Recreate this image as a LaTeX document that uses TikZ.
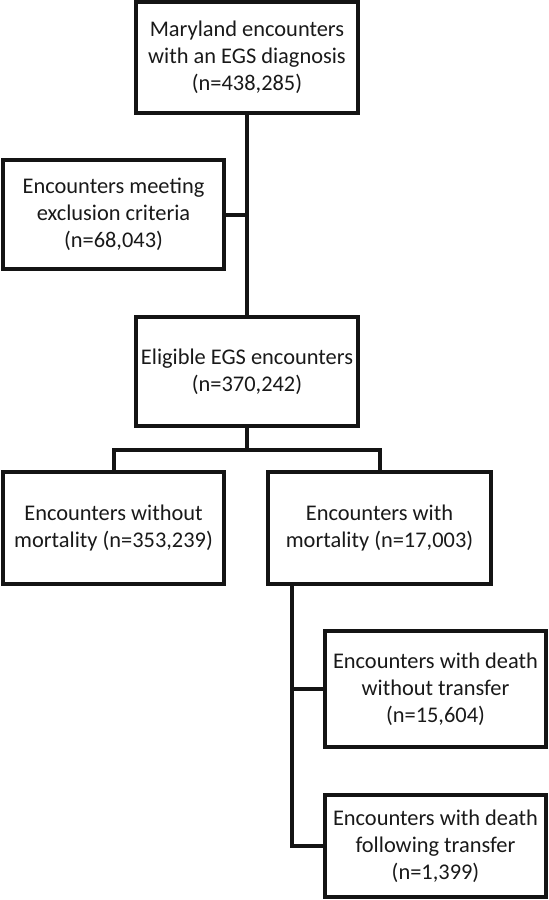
\documentclass[tikz,border=0pt]{standalone}
\usepackage{fontspec}
\setmainfont{Carlito}
\begin{document}
\begin{tikzpicture}[x=0.75pt,y=-0.75pt,
  box/.style={draw=black!92, line width=3pt, rectangle, align=center, inner sep=0pt,
    font=\fontsize{16.8}{20.4}\selectfont, text=black!90},
  link/.style={draw=black!92, line width=3pt}]
\useasboundingbox (0,0) rectangle (549,900);
\node[box, minimum width=166.5pt, minimum height=83.25pt] (b1) at (247,57.5)
  {Maryland encounters\\with an EGS diagnosis\\(n=438,285)};
\node[box, minimum width=165.75pt, minimum height=81.75pt] (b2) at (113.5,214.5)
  {Encounters meeting\\exclusion criteria\\(n=68,043)};
\node[box, minimum width=166.5pt, minimum height=81.75pt] (b3) at (247,371.5)
  {Eligible EGS encounters\\(n=370,242)};
\node[box, minimum width=165.75pt, minimum height=84pt] (b4) at (113.5,528)
  {Encounters without\\mortality (n=353,239)};
\node[box, minimum width=167.25pt, minimum height=84pt] (b5) at (379.5,528)
  {Encounters with\\mortality (n=17,003)};
\node[box, minimum width=165.75pt, minimum height=87pt] (b6) at (435.5,689)
  {Encounters with death\\without transfer\\(n=15,604)};
\node[box, minimum width=165.75pt, minimum height=76.5pt] (b7) at (435.5,846)
  {Encounters with death\\following transfer\\(n=1,399)};
\coordinate (j1) at (247,214.5);
\coordinate (bar) at (247,450);
\coordinate (t5) at (292,584);
\coordinate (j6) at (292,689);
\coordinate (j7) at (292,846);
\draw[link] (b1.south) -- (b3.north);
\draw[link] (b2.east) -- (j1);
\draw[link] (b3.south) -- (bar);
\draw[link, line join=miter] (b4.north) |- (bar) -| (b5.north);
\draw[link, line join=miter] (t5) -- (j7) -- (b7.west);
\draw[link] (j6) -- (b6.west);
\end{tikzpicture}
\end{document}
